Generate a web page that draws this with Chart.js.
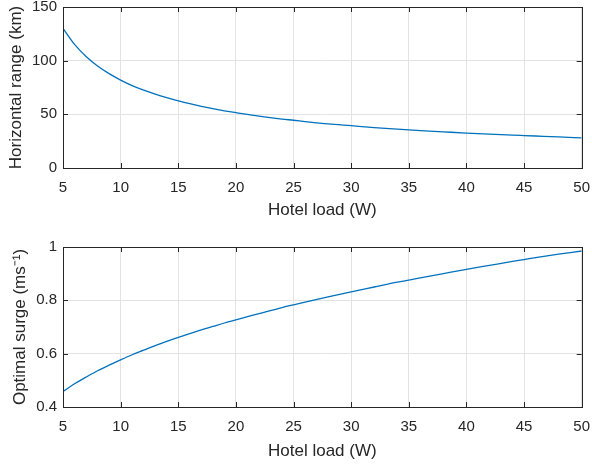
<!DOCTYPE html>
<html>
<head>
<meta charset="utf-8">
<script src="https://cdn.jsdelivr.net/npm/chart.js@4/dist/chart.umd.min.js"></script>
<style>
  body { margin: 0; background: #fff; }
  #wrap { position: relative; width: 592px; height: 466px; overflow: hidden; }
  .panel { position: absolute; left: 0; width: 601px; }
</style>
</head>
<body>
<div id="wrap">
  <div class="panel" style="top:-8px;height:238px"><canvas id="rangeChart"></canvas></div>
  <div class="panel" style="top:230px;height:236px"><canvas id="surgeChart"></canvas></div>
</div>
<script>
// Datos
const hotelLoad = [5, 6, 7, 8, 9, 10, 11, 12, 13, 14, 15, 16, 17, 18, 19, 20, 22, 24, 25, 26, 28, 30, 32, 34, 35, 36, 38, 40, 42, 44, 45, 46, 48, 50];
const horizontalRange = [130, 115.1, 103.9, 95.0, 87.9, 81.9, 76.8, 72.5, 68.8, 65.5, 62.5, 59.9, 57.5, 55.3, 53.3, 51.6, 48.3, 45.6, 44.5, 43.3, 41.1, 39.4, 37.7, 36.2, 35.5, 34.9, 33.7, 32.5, 31.5, 30.6, 30.2, 29.8, 29.0, 28.0];
const optimalSurge = [0.458, 0.487, 0.512, 0.536, 0.557, 0.577, 0.596, 0.613, 0.630, 0.646, 0.661, 0.675, 0.689, 0.702, 0.715, 0.727, 0.750, 0.773, 0.783, 0.793, 0.813, 0.832, 0.850, 0.868, 0.876, 0.884, 0.900, 0.916, 0.931, 0.946, 0.953, 0.960, 0.973, 0.985];
const xTicks = [5, 10, 15, 20, 25, 30, 35, 40, 45, 50];

const FONT = "'Liberation Sans', Arial, sans-serif";
const TEXT = '#262626';

// Caja y marcas interiores estilo MATLAB
const boxPlugin = {
    id: 'boxPlugin',
    afterDraw(chart) {
        const { ctx, chartArea: a, scales } = chart;
        ctx.save();
        ctx.strokeStyle = TEXT;
        ctx.lineWidth = 1;
        ctx.beginPath();
        scales.x.ticks.forEach(t => {
            const px = Math.round(scales.x.getPixelForValue(t.value)) + 0.5;
            ctx.moveTo(px, a.bottom); ctx.lineTo(px, a.bottom - 5);
            ctx.moveTo(px, a.top); ctx.lineTo(px, a.top + 5);
        });
        scales.y.ticks.forEach(t => {
            const py = Math.round(scales.y.getPixelForValue(t.value)) + 0.5;
            ctx.moveTo(a.left, py); ctx.lineTo(a.left + 5, py);
            ctx.moveTo(a.right, py); ctx.lineTo(a.right - 5, py);
        });
        ctx.stroke();
        ctx.strokeRect(Math.round(a.left) + 0.5, Math.round(a.top) + 0.5,
            Math.round(a.right - a.left), Math.round(a.bottom - a.top));
        ctx.restore();
    }
};

function makeChart(id, yValues, yMin, yMax, yStep, yTitle, pad, xHeight, xTitlePad, yTitlePad) {
    const ctx = document.getElementById(id).getContext('2d');
    return new Chart(ctx, {
        type: 'line',
        data: {
            datasets: [{
                data: hotelLoad.map((x, i) => ({ x: x, y: yValues[i] })),
                borderColor: '#0072BD',
                borderWidth: 1.3,
                pointRadius: 0,
                cubicInterpolationMode: 'monotone',
                fill: false
            }]
        },
        options: {
            responsive: true,
            maintainAspectRatio: false,
            animation: false,
            layout: { padding: pad },
            plugins: { legend: { display: false }, tooltip: { enabled: false } },
            scales: {
                x: {
                    type: 'linear',
                    min: 5,
                    max: 50,
                    afterBuildTicks: s => { s.ticks = xTicks.map(v => ({ value: v })); },
                    afterFit: s => { s.height = xHeight; },
                    grid: { color: '#e3e3e3', drawTicks: false },
                    border: { display: false },
                    ticks: { color: TEXT, font: { family: FONT, size: 15 }, padding: 11, maxRotation: 0 },
                    title: { display: true, text: 'Hotel load (W)', color: TEXT, font: { family: FONT, size: 17 }, padding: { top: 0, bottom: xTitlePad } }
                },
                y: {
                    min: yMin,
                    max: yMax,
                    ticks: {
                        stepSize: yStep,
                        color: TEXT,
                        font: { family: FONT, size: 15 },
                        padding: 6,
                        callback: v => String(Math.round(v * 10) / 10)
                    },
                    afterFit: s => { s.width = 63; },
                    grid: { color: '#e3e3e3', drawTicks: false },
                    border: { display: false },
                    title: { display: true, text: yTitle, color: TEXT, font: { family: FONT, size: 17 }, padding: { top: yTitlePad, bottom: 0 } }
                }
            }
        },
        plugins: [boxPlugin]
    });
}

makeChart('rangeChart', horizontalRange, 0, 150, 50, 'Horizontal range (km)',
    { left: 0, top: 0, right: 0, bottom: 0 }, 62, 9, 6);
makeChart('surgeChart', optimalSurge, 0.4, 1, 0.2, 'Optimal surge (ms⁻¹)',
    { left: 0, top: 17, right: 0, bottom: 0 }, 59, 4, 10);
</script>
</body>
</html>
